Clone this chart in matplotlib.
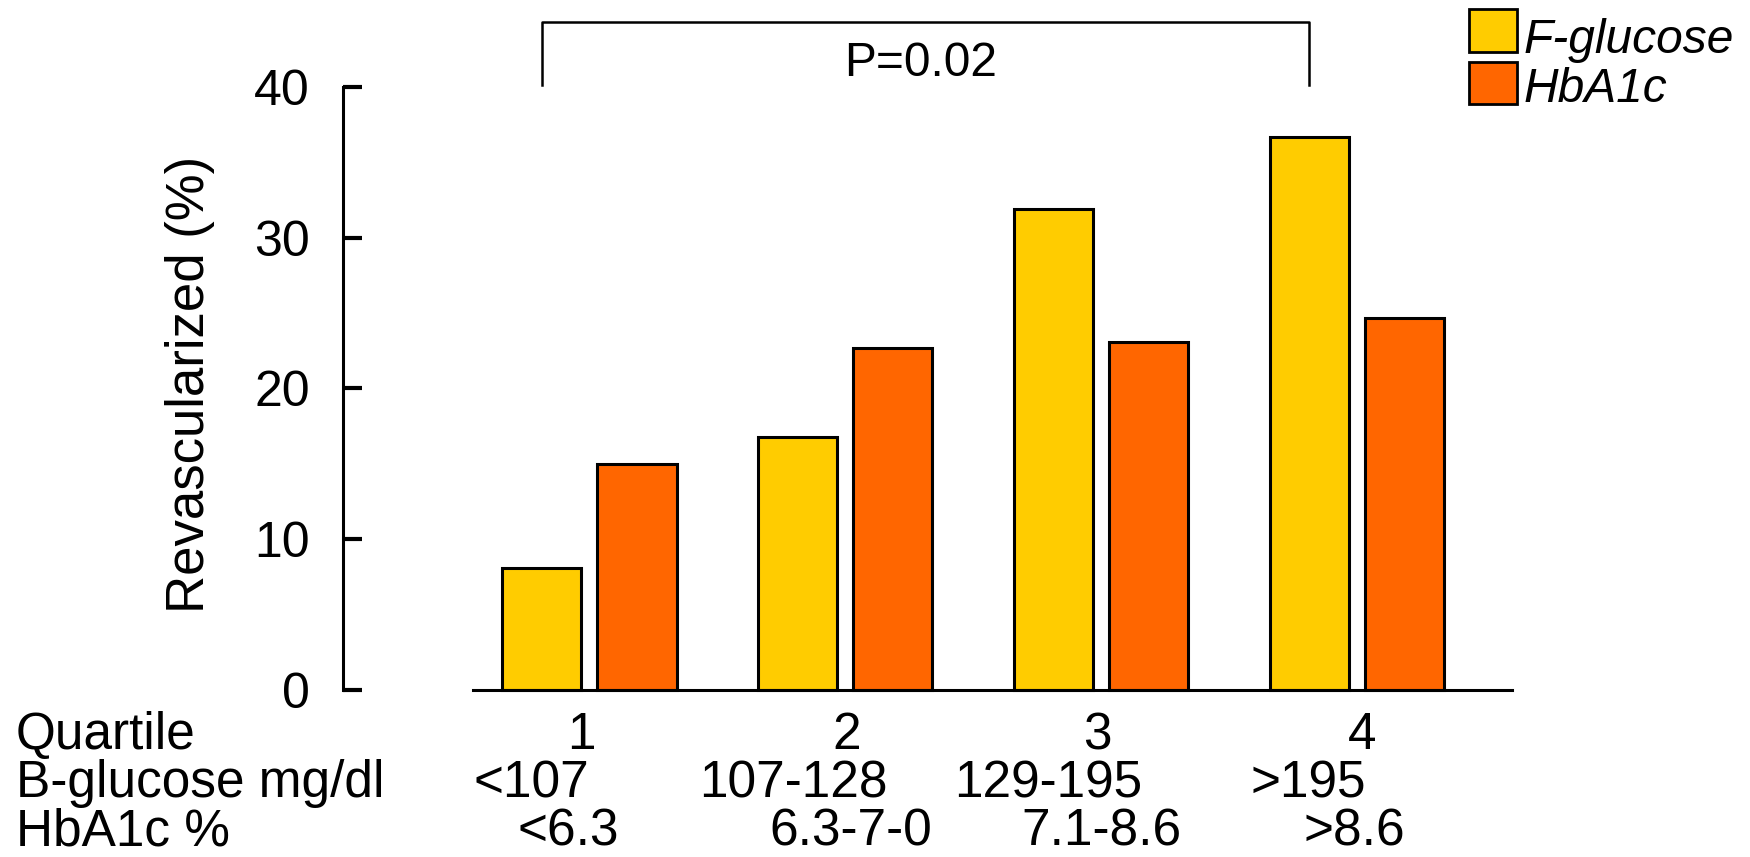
import numpy as np
import matplotlib
matplotlib.use("Agg")
import matplotlib.pyplot as plt
from matplotlib.patches import Rectangle
from matplotlib.transforms import blended_transform_factory

plt.rcParams['font.family'] = ['Liberation Sans', 'DejaVu Sans']

# data
quartiles = ["1", "2", "3", "4"]
f_glucose = [8.1, 16.8, 31.9, 36.7]
hba1c = [15.0, 22.7, 23.1, 24.7]
bglucose_labels = ["<107", "107-128", "129-195", ">195"]
hba1c_labels = ["<6.3", "6.3-7-0", "7.1-8.6", ">8.6"]
row_titles = ["Quartile", "B-glucose mg/dl", "HbA1c %"]
series_names = ["F-glucose", "HbA1c"]
p_text = "P=0.02"

yellow = "#FFCC00"
orange = "#FF6600"

W, H = 1750, 857
fig = plt.figure(figsize=(W / 100, H / 100), dpi=100)
ax = fig.add_axes([343.3 / W, 1 - 700 / H, (1512 - 343.3) / W, (700 - 15) / H])

x = np.arange(len(quartiles))
bw = 0.309
off = 0.186
ax.bar(x - off, f_glucose, bw, color=yellow, edgecolor="black", linewidth=2.2, zorder=3)
ax.bar(x + off, hba1c, bw, color=orange, edgecolor="black", linewidth=2.2, zorder=3)

ax.set_xlim(-0.962, 3.606)
ax.set_ylim(-0.663, 44.76)

# baseline under the bars
ax.plot([-0.455, 3.606], [0, 0], color="black", lw=2.2, clip_on=False, zorder=4)

for s in ["top", "right", "bottom"]:
    ax.spines[s].set_visible(False)
ax.spines["left"].set_bounds(0, 40)
ax.spines["left"].set_linewidth(2.2)
ax.set_yticks([0, 10, 20, 30, 40])
ax.tick_params(axis="y", direction="in", length=13.5, width=3, pad=24, labelsize=36)
ax.set_xticks([])

# significance bracket between the first and last F-glucose bars
bx1, bx2 = x[0] - off, x[-1] - off
ax.plot([bx1, bx1, bx2, bx2], [40.12, 44.28, 44.28, 40.12], color="black", lw=1.8, clip_on=False)
ax.text((bx1 + bx2) / 2 - 0.02, 40.72, p_text, ha="center", va="baseline", fontsize=34.5)

# y label
fig.text(190 / W, 1 - 384 / H, "Revascularized (%)", rotation=90, ha="center", va="center", fontsize=38)

# rows of category labels under the axis
tr = blended_transform_factory(ax.transData, fig.transFigure)
q_pos = [-0.033, 1.005, 1.986, 3.019]
bg_pos = [-0.225, 0.797, 1.793, 2.809]
hb_pos = [-0.082, 1.022, 2.0, 2.991]
row_base = [749, 797, 845]
for lab_list, pos, yb in zip([quartiles, bglucose_labels, hba1c_labels], [q_pos, bg_pos, hb_pos], row_base):
    for lab, px in zip(lab_list, pos):
        ax.text(px, 1 - yb / H, lab, transform=tr, ha="center", va="baseline", fontsize=37)
for title, yb in zip(row_titles, row_base):
    fig.text(16 / W, 1 - yb / H, title, ha="left", va="baseline", fontsize=37)

# legend drawn by hand at top right
leg_boxes = [(9, 52.3), (61.7, 104.3)]
leg_base = [53.3, 101.7]
for name, col, (t, b), yb in zip(series_names, [yellow, orange], leg_boxes, leg_base):
    fig.patches.append(Rectangle((1469 / W, 1 - b / H), 47.7 / W, (b - t) / H,
                                 transform=fig.transFigure, facecolor=col,
                                 edgecolor="black", linewidth=2))
    fig.text(1523.3 / W, 1 - yb / H, name, style="italic", ha="left", va="baseline", fontsize=34.5)

fig.savefig("out.png", dpi=100)
